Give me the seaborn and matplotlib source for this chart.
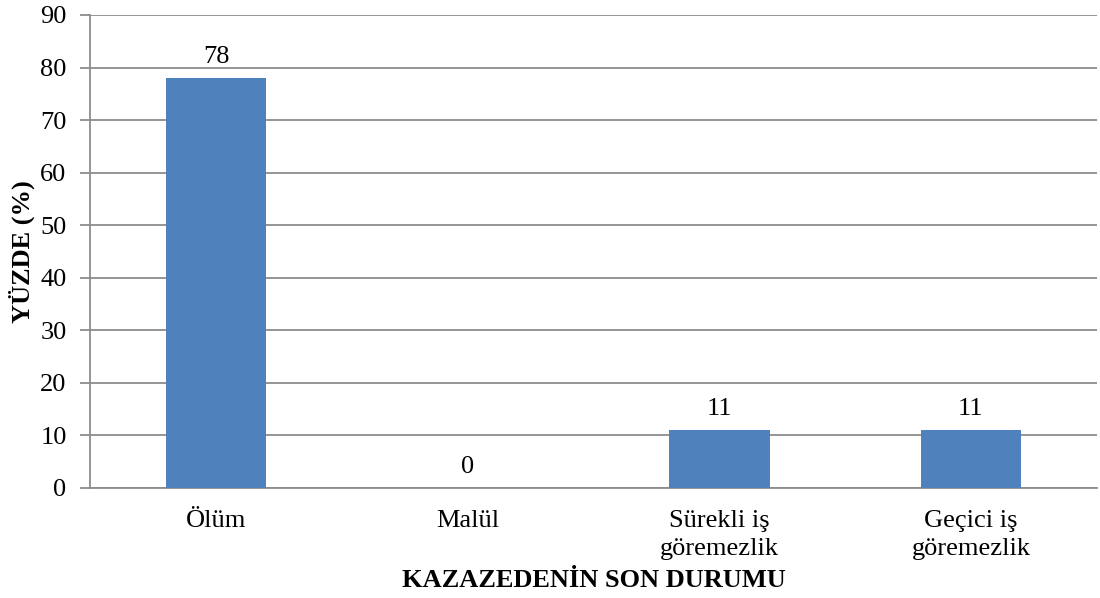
import matplotlib
matplotlib.use("Agg")
import matplotlib.pyplot as plt
import pandas as pd
import seaborn as sns

categories = ["Ölüm", "Malül", "Sürekli iş\ngöremezlik", "Geçici iş\ngöremezlik"]
values = [78, 0, 11, 11]
y_ticks = [0, 10, 20, 30, 40, 50, 60, 70, 80, 90]

BAR_COLOR = "#4F81BD"
GRID_COLOR = "#8C8C8C"
FS = 19

sns.set_theme(style="white")
plt.rcParams["font.family"] = ["Liberation Serif", "DejaVu Serif"]
plt.rcParams["text.color"] = "black"
plt.rcParams["axes.labelcolor"] = "black"
plt.rcParams["xtick.color"] = "black"
plt.rcParams["ytick.color"] = "black"

df = pd.DataFrame({"durum": categories, "yuzde": values})

fig = plt.figure(figsize=(11, 5.98), dpi=100)
ax = fig.add_axes([0.082, 0.184, 0.915, 0.791])

sns.barplot(data=df, x="durum", y="yuzde", color=BAR_COLOR, width=0.4,
            saturation=1, linewidth=0, ax=ax, zorder=3)

for cont in ax.containers:
    ax.bar_label(cont, labels=[str(v) for v in values], padding=7,
                 fontsize=FS, color="black")

ax.set_ylim(0, 90)
ax.set_yticks(y_ticks)
ax.set_xlim(-0.5, len(categories) - 0.5)
ax.yaxis.grid(True, color=GRID_COLOR, linewidth=1.3, zorder=0)
ax.set_axisbelow(True)

for side in ["top", "right"]:
    ax.spines[side].set_visible(False)
ax.spines["left"].set_color(GRID_COLOR)
ax.spines["left"].set_linewidth(1.3)
ax.spines["bottom"].set_color(GRID_COLOR)
ax.spines["bottom"].set_linewidth(1.3)

ax.tick_params(axis="y", which="major", left=True, length=7, width=1.3,
               color=GRID_COLOR, labelcolor="black", labelsize=FS, pad=10)
ax.tick_params(axis="x", bottom=False, labelcolor="black", labelsize=FS, pad=10)
for lbl in ax.get_xticklabels():
    lbl.set_linespacing(1.35)

ax.set_xlabel("KAZAZEDENİN SON DURUMU", fontsize=FS, fontweight="bold")
ax.xaxis.set_label_coords(0.5, -0.172)
ax.set_ylabel("YÜZDE (%)", fontsize=FS, fontweight="bold", labelpad=4)

fig.savefig("out.png", dpi=100)
